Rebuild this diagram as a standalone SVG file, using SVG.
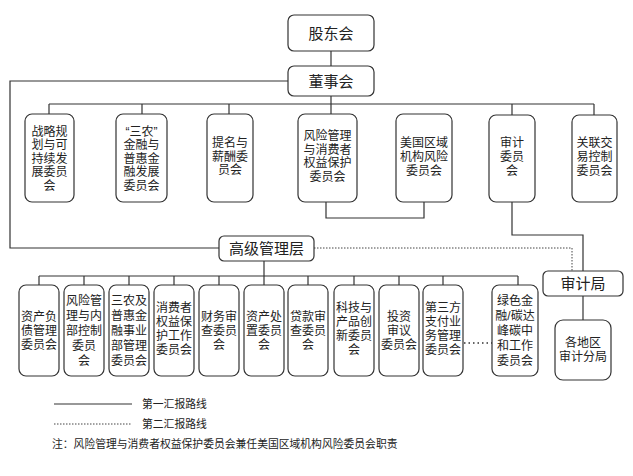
<svg xmlns="http://www.w3.org/2000/svg" width="633" height="476" viewBox="0 0 633 476">
<style>
.box{fill:#fff;stroke:#333;stroke-width:1.2}
.ln{fill:none;stroke:#333;stroke-width:1.2}
.dot{fill:none;stroke:#444;stroke-width:1;stroke-dasharray:1.5 1.5}
.dot2{fill:none;stroke:#333;stroke-width:1.4;stroke-dasharray:1.5 3}
text{font-family:"Liberation Sans","Noto Sans CJK SC",sans-serif;fill:#222;text-anchor:middle}
.big{font-size:15px}
.t{font-size:12px}
.lg{font-size:10.8px;text-anchor:start}
</style>
<rect width="633" height="476" fill="#fff"/>
<g id="connectors">
<line class="ln" x1="331" y1="51" x2="331" y2="66"/>
<polyline class="ln" points="288,81 10,81 10,248 219,248"/>
<line class="ln" x1="331" y1="96" x2="331" y2="114"/>
<line class="ln" x1="49" y1="104" x2="594" y2="104"/>
<line class="ln" x1="49" y1="104" x2="49" y2="114"/>
<line class="ln" x1="142" y1="104" x2="142" y2="114"/>
<line class="ln" x1="229" y1="104" x2="229" y2="114"/>
<line class="ln" x1="512" y1="104" x2="512" y2="115"/>
<line class="ln" x1="594" y1="104" x2="594" y2="115"/>
<polyline class="ln" points="326,202 326,218 424,218 424,202"/>
<polyline class="ln" points="512,202 512,235 583,235 583,271"/>
<polyline class="dot" points="314,248 572,248 572,271"/>
<line class="ln" x1="583" y1="296" x2="583" y2="320"/>
<line class="ln" x1="264" y1="261" x2="264" y2="276"/>
<line class="ln" x1="39" y1="276" x2="518" y2="276"/>
<line class="ln" x1="39" y1="276" x2="39" y2="285"/>
<line class="ln" x1="84" y1="276" x2="84" y2="285"/>
<line class="ln" x1="129" y1="276" x2="129" y2="285"/>
<line class="ln" x1="174" y1="276" x2="174" y2="285"/>
<line class="ln" x1="219" y1="276" x2="219" y2="285"/>
<line class="ln" x1="264" y1="276" x2="264" y2="285"/>
<line class="ln" x1="308" y1="276" x2="308" y2="285"/>
<line class="ln" x1="354" y1="276" x2="354" y2="285"/>
<line class="ln" x1="399" y1="276" x2="399" y2="285"/>
<line class="ln" x1="443" y1="276" x2="443" y2="285"/>
<line class="ln" x1="518" y1="276" x2="518" y2="285"/>
<line class="dot2" x1="464" y1="343" x2="492" y2="343"/>
</g>
<g id="gudonghui"><rect class="box" x="288" y="15" width="86" height="36" rx="6"/><text class="big" x="331" y="38.5">股东会</text></g>
<g id="dongshihui"><rect class="box" x="288" y="66" width="86" height="30" rx="6"/><text class="big" x="331" y="86.5">董事会</text></g>
<g id="c1"><rect class="box" x="25" y="114" width="49" height="88" rx="7"/>
<text class="t" x="49.5" y="135.5">战略规<tspan x="49.5" dy="13.5">划与可</tspan><tspan x="49.5" dy="13.5">持续发</tspan><tspan x="49.5" dy="13.5">展委员</tspan><tspan x="49.5" dy="13.5">会</tspan></text></g>
<g id="c2"><rect class="box" x="116" y="114" width="51" height="88" rx="7"/>
<text class="t" x="141.5" y="135.5">“三农”<tspan x="141.5" dy="13.5">金融与</tspan><tspan x="141.5" dy="13.5">普惠金</tspan><tspan x="141.5" dy="13.5">融发展</tspan><tspan x="141.5" dy="13.5">委员会</tspan></text></g>
<g id="c3"><rect class="box" x="207" y="114" width="46" height="88" rx="7"/>
<text class="t" x="230" y="147">提名与<tspan x="230" dy="13.5">薪酬委</tspan><tspan x="230" dy="13.5">员会</tspan></text></g>
<g id="c4"><rect class="box" x="298" y="114" width="59" height="88" rx="7"/>
<text class="t" x="327.5" y="140">风险管理<tspan x="327.5" dy="13.5">与消费者</tspan><tspan x="327.5" dy="13.5">权益保护</tspan><tspan x="327.5" dy="13.5">委员会</tspan></text></g>
<g id="c5"><rect class="box" x="396" y="114" width="56" height="88" rx="7"/>
<text class="t" x="424" y="147">美国区域<tspan x="424" dy="14">机构风险</tspan><tspan x="424" dy="14">委员会</tspan></text></g>
<g id="c6"><rect class="box" x="489" y="115" width="46" height="87" rx="7"/>
<text class="t" x="512" y="147">审计<tspan x="512" dy="14">委员</tspan><tspan x="512" dy="14">会</tspan></text></g>
<g id="c7"><rect class="box" x="572" y="115" width="45" height="87" rx="7"/>
<text class="t" x="594.5" y="147">关联交<tspan x="594.5" dy="14">易控制</tspan><tspan x="594.5" dy="14">委员会</tspan></text></g>
<g id="gaoji"><rect class="box" x="219" y="236" width="95" height="25" rx="5"/><text class="big" x="266.5" y="254">高级管理层</text></g>
<g id="shenjiju"><rect class="box" x="543" y="271" width="80" height="25" rx="5"/><text class="big" x="583" y="289">审计局</text></g>
<g id="fenju"><rect class="box" x="555" y="320" width="56" height="60" rx="8"/>
<text class="t" x="583" y="347">各地区<tspan x="583" dy="14">审计分局</tspan></text></g>
<g id="m1"><rect class="box" x="19" y="285" width="40" height="91" rx="7"/>
<text class="t" x="39" y="321">资产负<tspan x="39" dy="14">债管理</tspan><tspan x="39" dy="14">委员会</tspan></text></g>
<g id="m2"><rect class="box" x="64" y="285" width="40" height="91" rx="7"/>
<text class="t" x="84" y="305">风险管<tspan x="84" dy="15">理与内</tspan><tspan x="84" dy="15">部控制</tspan><tspan x="84" dy="15">委员</tspan><tspan x="84" dy="15">会</tspan></text></g>
<g id="m3"><rect class="box" x="109" y="285" width="40" height="91" rx="7"/>
<text class="t" x="129" y="305">三农及<tspan x="129" dy="15">普惠金</tspan><tspan x="129" dy="15">融事业</tspan><tspan x="129" dy="15">部管理</tspan><tspan x="129" dy="15">委员会</tspan></text></g>
<g id="m4"><rect class="box" x="154" y="285" width="40" height="91" rx="7"/>
<text class="t" x="174" y="312">消费者<tspan x="174" dy="14">权益保</tspan><tspan x="174" dy="14">护工作</tspan><tspan x="174" dy="14">委员会</tspan></text></g>
<g id="m5"><rect class="box" x="199" y="285" width="40" height="91" rx="7"/>
<text class="t" x="219" y="321">财务审<tspan x="219" dy="14">查委员</tspan><tspan x="219" dy="14">会</tspan></text></g>
<g id="m6"><rect class="box" x="244" y="285" width="40" height="91" rx="7"/>
<text class="t" x="264" y="321">资产处<tspan x="264" dy="14">置委员</tspan><tspan x="264" dy="14">会</tspan></text></g>
<g id="m7"><rect class="box" x="288" y="285" width="40" height="91" rx="7"/>
<text class="t" x="308" y="321">贷款审<tspan x="308" dy="14">查委员</tspan><tspan x="308" dy="14">会</tspan></text></g>
<g id="m8"><rect class="box" x="334" y="285" width="40" height="91" rx="7"/>
<text class="t" x="354" y="312">科技与<tspan x="354" dy="14">产品创</tspan><tspan x="354" dy="14">新委员</tspan><tspan x="354" dy="14">会</tspan></text></g>
<g id="m9"><rect class="box" x="379" y="285" width="40" height="91" rx="7"/>
<text class="t" x="399" y="321">投资<tspan x="399" dy="14">审议</tspan><tspan x="399" dy="14">委员会</tspan></text></g>
<g id="m10"><rect class="box" x="423" y="285" width="40" height="91" rx="7"/>
<text class="t" x="443" y="312">第三方<tspan x="443" dy="14">支付业</tspan><tspan x="443" dy="14">务管理</tspan><tspan x="443" dy="14">委员会</tspan></text></g>
<g id="m11"><rect class="box" x="492" y="285" width="46" height="91" rx="7"/>
<text class="t" x="515" y="305">绿色金<tspan x="515" dy="15">融/碳达</tspan><tspan x="515" dy="15">峰碳中</tspan><tspan x="515" dy="15">和工作</tspan><tspan x="515" dy="15">委员会</tspan></text></g>
<g id="legend">
<line class="ln" x1="54" y1="404" x2="132" y2="404"/>
<text class="lg" x="142" y="408">第一汇报路线</text>
<line class="dot" x1="54" y1="424" x2="132" y2="424"/>
<text class="lg" x="142" y="428">第二汇报路线</text>
<text class="lg" x="52" y="448">注：风险管理与消费者权益保护委员会兼任美国区域机构风险委员会职责</text>
</g>
</svg>
